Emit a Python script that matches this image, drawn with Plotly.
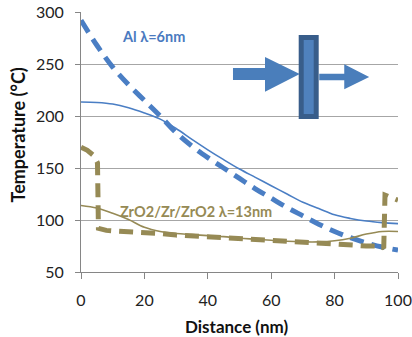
import plotly.graph_objects as go

# ---- data ----
x_al = [0, 5, 10, 15, 20, 25, 30, 35, 40, 45, 50, 55, 60, 65, 70, 75, 80, 85, 90, 95, 100]
al_solid = [213.5, 213, 211.5, 208, 203, 197, 188, 177.5, 167.5, 158, 149, 141, 133, 125, 117, 111, 105, 101.5, 99, 97.5, 96.5]
al_dashed = [292, 268, 247, 230, 215, 200, 184, 171, 160, 150, 140, 130, 121, 112, 104, 96, 89, 83, 78, 74, 71]

x_zr_solid = [0, 5, 10, 15, 20, 25, 30, 35, 40, 45, 50, 55, 60, 65, 70, 75, 80, 85, 90, 95, 100]
zr_solid = [114, 111.5, 106.5, 100.5, 93, 89, 87, 86, 85, 84, 82.5, 81.5, 80.5, 79.5, 79, 79, 80, 82.5, 86.5, 89, 89]

x_zr_dashed = [0, 2, 4, 5.2, 5.5, 6.5, 8, 10, 15, 20, 25, 30, 40, 50, 60, 70, 80, 90, 94.5, 95.5, 95.9, 100]
zr_dashed = [170, 167, 162, 155, 92, 91, 90, 89.5, 89, 88, 87, 85.5, 84, 82, 80, 79, 77, 75, 75, 73, 124, 119]

x_ticks = [0, 20, 40, 60, 80, 100]
y_ticks = [50, 100, 150, 200, 250, 300]

BLUE = "#4A7EC4"
OLIVE = "#968A55"
FONT = "Lato"

fig = go.Figure()
fig.add_trace(go.Scatter(x=x_al, y=al_solid, mode="lines", line=dict(color=BLUE, width=1.6, shape="spline"), hoverinfo="skip"))
fig.add_trace(go.Scatter(x=x_al, y=al_dashed, mode="lines", line=dict(color=BLUE, width=5, dash="14px,8px", shape="spline"), hoverinfo="skip"))
fig.add_trace(go.Scatter(x=x_zr_solid, y=zr_solid, mode="lines", line=dict(color=OLIVE, width=1.6, shape="spline"), hoverinfo="skip"))
fig.add_trace(go.Scatter(x=x_zr_dashed, y=zr_dashed, mode="lines", line=dict(color=OLIVE, width=5, dash="14px,8px"), hoverinfo="skip"))

# plot-area geometry in pixels (for decorations)
W, H = 412, 337
L, R, T, B = 81, 398, 12, 272
def px(xp):
    return (xp - L) / (R - L)
def py(yp):
    return (B - yp) / (B - T)

ARROW = "#4A7EBB"
def path(points):
    return "M " + " L ".join(f"{px(a):.4f},{py(b):.4f}" for a, b in points) + " Z"

shapes = []
# big arrow
big = [(234, 69), (266, 69), (266, 58.5), (297.5, 74), (266, 90), (266, 79), (234, 79)]
shapes.append(dict(type="path", xref="paper", yref="paper", path=path(big),
                   fillcolor=ARROW, line=dict(color=ARROW, width=2)))
# small arrow
small = [(320, 74.5), (345, 74.5), (345, 65.5), (367.5, 77), (345, 88), (345, 79.5), (320, 79.5)]
shapes.append(dict(type="path", xref="paper", yref="paper", path=path(small),
                   fillcolor=ARROW, line=dict(color=ARROW, width=1.5)))
# slab
shapes.append(dict(type="rect", xref="paper", yref="paper",
                   x0=px(301.2), x1=px(316.2), y0=py(116.5), y1=py(37.5),
                   fillcolor="#4F81BD", line=dict(color="#385D8A", width=5)))

fig.update_layout(
    width=W, height=H,
    margin=dict(l=L, r=W - R, t=T, b=H - B, autoexpand=False),
    paper_bgcolor="white", plot_bgcolor="white",
    showlegend=False,
    font=dict(family=FONT, size=16, color="#222222"),
    shapes=shapes,
    annotations=[
        dict(x=px(153), y=py(36), xref="paper", yref="paper", text="<b>Al λ=6nm</b>",
             xanchor="center", yanchor="middle",
             showarrow=False, font=dict(family=FONT, size=14.5, color="#4A7AC0")),
        dict(x=px(196), y=py(212), xref="paper", yref="paper", text="<b>ZrO2/Zr/ZrO2 λ=13nm</b>",
             xanchor="center", yanchor="middle",
             showarrow=False, font=dict(family=FONT, size=14.5, color=OLIVE)),
        # axis titles
        dict(x=px(17.5), y=py(135), xref="paper", yref="paper", text="<b>Temperature (°C)</b>",
             textangle=-90, xanchor="center", yanchor="middle",
             showarrow=False, font=dict(family=FONT, size=18, color="#111111")),
        dict(x=px(236), y=py(326), xref="paper", yref="paper", text="<b>Distance (nm)</b>",
             xanchor="center", yanchor="middle",
             showarrow=False, font=dict(family=FONT, size=17, color="#111111")),
    ],
)
fig.update_xaxes(range=[0, 100], tickvals=x_ticks, ticktext=[str(v) for v in x_ticks],
                 automargin=False,
                 showgrid=False, zeroline=False, showline=True, linecolor="#868686", linewidth=1,
                 ticks="outside", ticklen=6, tickcolor="#868686", ticklabelstandoff=8,
                 tickfont=dict(size=16, color="#222222"))
fig.update_yaxes(range=[50, 300], tickvals=y_ticks, ticktext=[str(v) for v in y_ticks],
                 automargin=False,
                 showgrid=True, gridcolor="#A6A6A6", gridwidth=1, zeroline=False,
                 showline=True, linecolor="#868686", linewidth=1,
                 ticks="outside", ticklen=5, tickcolor="#868686", ticklabelstandoff=8,
                 tickfont=dict(size=16, color="#222222"))

fig.write_html("out.html", config={"displayModeBar": False},
               post_script="document.body.style.margin='0';document.body.style.overflow='hidden';")
